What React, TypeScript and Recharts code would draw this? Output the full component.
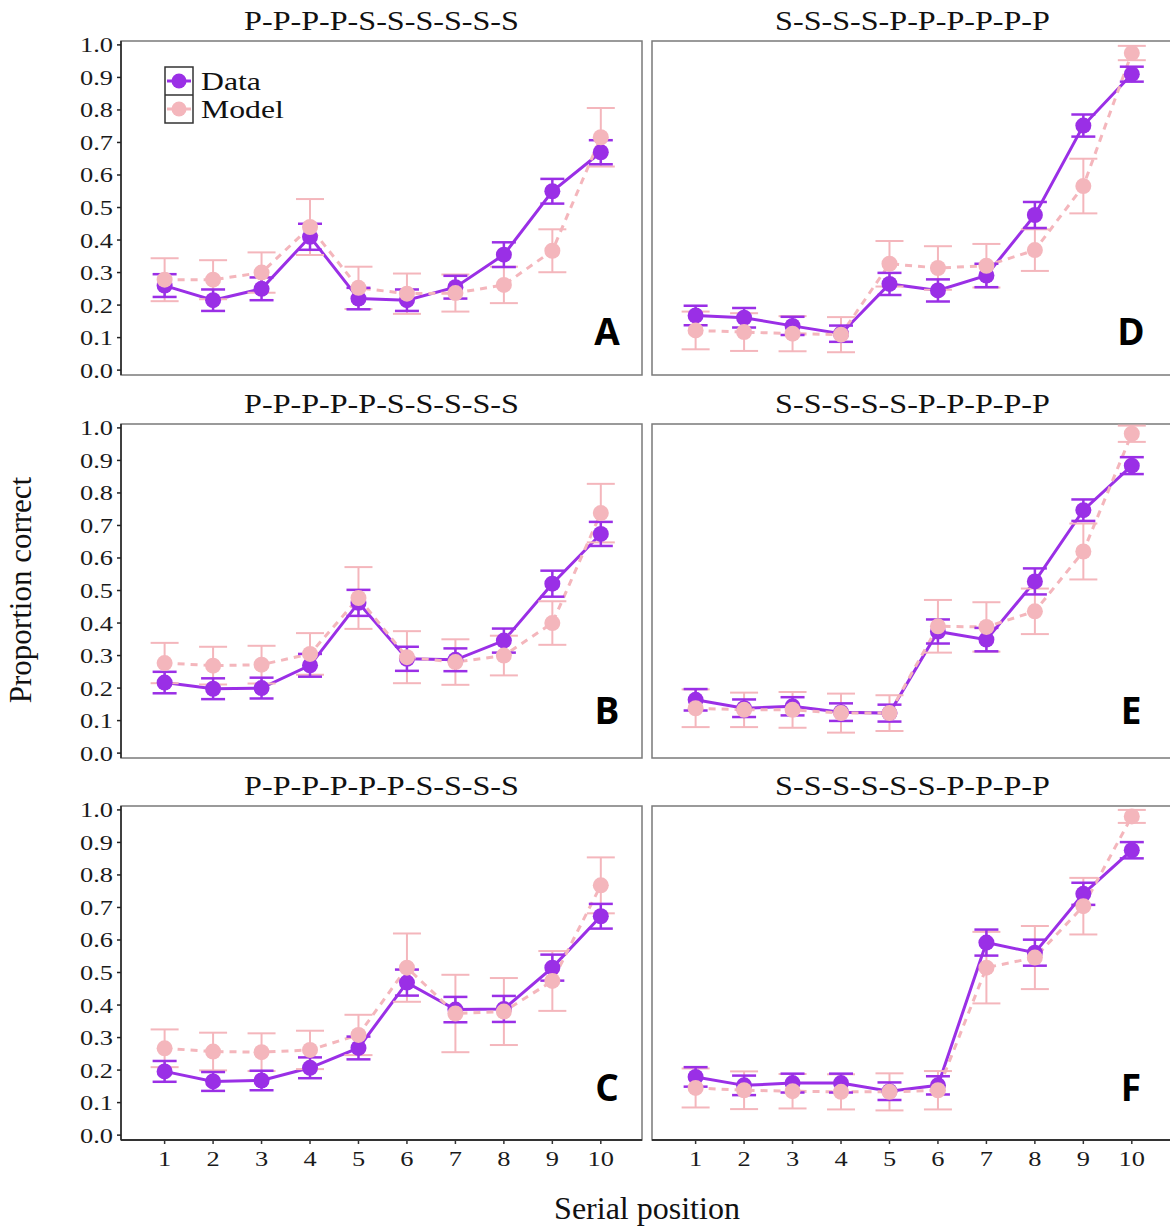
import React from 'react';
import { LineChart, Line, XAxis, YAxis, ErrorBar } from 'recharts';

const positions = [1, 2, 3, 4, 5, 6, 7, 8, 9, 10];
const yTicks = [0, 0.1, 0.2, 0.3, 0.4, 0.5, 0.6, 0.7, 0.8, 0.9, 1.0];

// panel A: P-P-P-P-S-S-S-S-S-S
const dataA = [0.26, 0.215, 0.25, 0.41, 0.22, 0.215, 0.255, 0.355, 0.55, 0.67];
const dataAErr = [0.035, 0.033, 0.035, 0.04, 0.033, 0.033, 0.035, 0.038, 0.038, 0.037];
const modelA = [0.278, 0.278, 0.3, 0.44, 0.253, 0.235, 0.237, 0.262, 0.367, 0.716];
const modelAErr = [0.066, 0.06, 0.062, 0.086, 0.065, 0.062, 0.057, 0.056, 0.066, 0.09];

// panel B: P-P-P-P-P-S-S-S-S-S
const dataB = [0.217, 0.198, 0.2, 0.27, 0.462, 0.29, 0.287, 0.346, 0.521, 0.674];
const dataBErr = [0.033, 0.032, 0.032, 0.035, 0.04, 0.037, 0.035, 0.037, 0.04, 0.037];
const modelB = [0.277, 0.269, 0.272, 0.305, 0.477, 0.295, 0.28, 0.3, 0.4, 0.738];
const modelBErr = [0.062, 0.058, 0.058, 0.064, 0.095, 0.08, 0.07, 0.061, 0.067, 0.09];

// panel C: P-P-P-P-P-P-S-S-S-S
const dataC = [0.196, 0.165, 0.168, 0.207, 0.268, 0.469, 0.386, 0.388, 0.515, 0.673];
const dataCErr = [0.032, 0.029, 0.03, 0.032, 0.035, 0.04, 0.039, 0.04, 0.04, 0.038];
const modelC = [0.267, 0.257, 0.255, 0.262, 0.308, 0.515, 0.374, 0.38, 0.474, 0.768];
const modelCErr = [0.058, 0.058, 0.058, 0.059, 0.062, 0.105, 0.119, 0.103, 0.092, 0.086];

// panel D: S-S-S-S-P-P-P-P-P-P
const dataD = [0.168, 0.161, 0.136, 0.112, 0.265, 0.245, 0.291, 0.477, 0.752, 0.91];
const dataDErr = [0.03, 0.03, 0.028, 0.025, 0.034, 0.034, 0.036, 0.04, 0.034, 0.023];
const modelD = [0.122, 0.117, 0.112, 0.109, 0.327, 0.314, 0.321, 0.369, 0.566, 0.975];
const modelDErr = [0.058, 0.058, 0.054, 0.054, 0.07, 0.067, 0.067, 0.064, 0.084, 0.022];

// panel E: S-S-S-S-S-P-P-P-P-P
const dataE = [0.164, 0.138, 0.144, 0.126, 0.123, 0.374, 0.349, 0.528, 0.747, 0.884];
const dataEErr = [0.033, 0.027, 0.028, 0.027, 0.026, 0.037, 0.036, 0.04, 0.033, 0.026];
const modelE = [0.138, 0.133, 0.133, 0.123, 0.123, 0.39, 0.388, 0.436, 0.62, 0.982];
const modelEErr = [0.058, 0.053, 0.055, 0.06, 0.055, 0.081, 0.076, 0.07, 0.086, 0.025];

// panel F: S-S-S-S-S-S-P-P-P-P
const dataF = [0.179, 0.153, 0.16, 0.16, 0.135, 0.153, 0.592, 0.561, 0.742, 0.876];
const dataFErr = [0.03, 0.03, 0.029, 0.029, 0.027, 0.028, 0.04, 0.04, 0.034, 0.025];
const modelF = [0.145, 0.138, 0.135, 0.133, 0.133, 0.138, 0.515, 0.546, 0.704, 0.98];
const modelFErr = [0.06, 0.058, 0.053, 0.054, 0.057, 0.059, 0.11, 0.097, 0.087, 0.02];

const titles = [
  'P-P-P-P-S-S-S-S-S-S',
  'P-P-P-P-P-S-S-S-S-S',
  'P-P-P-P-P-P-S-S-S-S',
  'S-S-S-S-P-P-P-P-P-P',
  'S-S-S-S-S-P-P-P-P-P',
  'S-S-S-S-S-S-P-P-P-P',
];
const letters = ['A', 'B', 'C', 'D', 'E', 'F'];
const legendNames = ['Data', 'Model'];

const PURPLE = '#9a2fe6';
const PINK = '#f4b6bc';
const SERIF = '"Liberation Serif", "Times New Roman", serif';

const PLOT_W = 521;
const PLOT_H = 334;
const COL_LEFT = [121, 652];
const ROW_TOP = [41, 424, 806];
const LETTER_BASE = [345, 724, 1101];
const Y_DOMAIN: [number, number] = [-0.015, 1.012];
const X_DOMAIN: [number, number] = [0.1, 10.85];

const panels = [
  { data: dataA, dataErr: dataAErr, model: modelA, modelErr: modelAErr, row: 0, col: 0 },
  { data: dataB, dataErr: dataBErr, model: modelB, modelErr: modelBErr, row: 1, col: 0 },
  { data: dataC, dataErr: dataCErr, model: modelC, modelErr: modelCErr, row: 2, col: 0 },
  { data: dataD, dataErr: dataDErr, model: modelD, modelErr: modelDErr, row: 0, col: 1 },
  { data: dataE, dataErr: dataEErr, model: modelE, modelErr: modelEErr, row: 1, col: 1 },
  { data: dataF, dataErr: dataFErr, model: modelF, modelErr: modelFErr, row: 2, col: 1 },
];

const YTick = (props: any) => {
  const { x, y, payload } = props;
  return (
    <text
      transform={`translate(${x},${y}) scale(1.2,1)`}
      textAnchor="end"
      dy="0.34em"
      fontSize={22}
      fontFamily={SERIF}
      fill="#1a1a1a"
    >
      {Number(payload.value).toFixed(1)}
    </text>
  );
};

const XTick = (props: any) => {
  const { x, y, payload } = props;
  return (
    <text
      transform={`translate(${x},${y}) scale(1.2,1)`}
      textAnchor="middle"
      dy="0.71em"
      fontSize={22}
      fontFamily={SERIF}
      fill="#1a1a1a"
    >
      {payload.value}
    </text>
  );
};

const Panel = ({ p }: { p: (typeof panels)[number] }) => {
  const rows = positions.map((pos, i) => ({
    pos,
    data: p.data[i],
    dataErr: p.dataErr[i],
    model: p.model[i],
    modelErr: p.modelErr[i],
  }));
  const showY = p.col === 0;
  const showX = p.row === 2;
  const yW = showY ? 60 : 0;
  const xH = showX ? 40 : 0;
  const mTop = 12;
  const mRight = 10;
  const mBottom = 14;
  const left = COL_LEFT[p.col] - yW;
  const top = ROW_TOP[p.row] - mTop;

  return (
    <div style={{ position: 'absolute', left, top }}>
      <LineChart
        width={yW + PLOT_W + mRight}
        height={mTop + PLOT_H + xH + mBottom}
        data={rows}
        margin={{ top: mTop, right: mRight, bottom: mBottom, left: 0 }}
      >
        <XAxis
          dataKey="pos"
          type="number"
          domain={X_DOMAIN}
          ticks={positions}
          interval={0}
          hide={!showX}
          height={xH}
          tickSize={4}
          tickMargin={6}
          tick={<XTick />}
          axisLine={{ stroke: '#333', strokeWidth: 2 }}
          tickLine={{ stroke: '#333', strokeWidth: 1.5 }}
        />
        <YAxis
          type="number"
          domain={Y_DOMAIN}
          ticks={yTicks}
          interval={0}
          hide={!showY}
          width={yW}
          tickSize={4}
          tickMargin={4}
          tick={<YTick />}
          axisLine={{ stroke: '#222', strokeWidth: 1.5 }}
          tickLine={{ stroke: '#222', strokeWidth: 1.5 }}
        />
        <Line dataKey="data" stroke={PURPLE} strokeWidth={3} dot={false} activeDot={false} isAnimationActive={false} />
        <Line
          dataKey="model"
          stroke={PINK}
          strokeWidth={3}
          strokeDasharray="7 6"
          dot={false}
          activeDot={false}
          isAnimationActive={false}
        />
        <Line
          dataKey="data"
          stroke="none"
          dot={{ r: 8, fill: PURPLE, stroke: 'none' }}
          activeDot={false}
          isAnimationActive={false}
        />
        <Line
          dataKey="model"
          stroke="none"
          dot={{ r: 8, fill: PINK, stroke: 'none' }}
          activeDot={false}
          isAnimationActive={false}
        />
        <Line dataKey="model" stroke="none" dot={false} activeDot={false} isAnimationActive={false}>
          <ErrorBar dataKey="modelErr" direction="y" width={14} stroke={PINK} strokeWidth={2} isAnimationActive={false} />
        </Line>
        <Line dataKey="data" stroke="none" dot={false} activeDot={false} isAnimationActive={false}>
          <ErrorBar dataKey="dataErr" direction="y" width={12} stroke={PURPLE} strokeWidth={2.5} isAnimationActive={false} />
        </Line>
      </LineChart>
    </div>
  );
};

const Backdrop = () => (
  <svg width={1170} height={1228} style={{ position: 'absolute', left: 0, top: 0 }}>
    {panels.map((p, i) => {
      const x = COL_LEFT[p.col];
      const y = ROW_TOP[p.row];
      return (
        <g key={i}>
          <rect x={x} y={y} width={PLOT_W} height={PLOT_H} fill="none" stroke="#7a7a7a" strokeWidth={1.5} />
          <text
            transform={`translate(${x + PLOT_W / 2},${y - 11}) scale(1.19,1)`}
            textAnchor="middle"
            fontSize={27}
            fontFamily={SERIF}
            fill="#111"
          >
            {titles[i]}
          </text>
          <text
            x={x + (p.col === 0 ? 486 : 479)}
            y={LETTER_BASE[p.row]}
            textAnchor="middle"
            fontSize={37}
            fontWeight="bold"
            fontFamily='"Open Sans", "Noto Sans", sans-serif'
            fill="#000"
          >
            {letters[i]}
          </text>
        </g>
      );
    })}
    {/* legend inside panel A */}
    <g>
      <rect x={165} y={67} width={28} height={56} fill="#fff" stroke="#333" strokeWidth={1.5} />
      <line x1={165} y1={95} x2={193} y2={95} stroke="#333" strokeWidth={1.5} />
      <line x1={167} y1={81} x2={191} y2={81} stroke={PURPLE} strokeWidth={3} />
      <circle cx={179} cy={81} r={7.5} fill={PURPLE} />
      <line x1={167} y1={109} x2={191} y2={109} stroke={PINK} strokeWidth={3} />
      <circle cx={179} cy={109} r={7.5} fill={PINK} />
      {legendNames.map((n, i) => (
        <text
          key={n}
          transform={`translate(201,${90 + i * 28}) scale(1.22,1)`}
          fontSize={26}
          fontFamily={SERIF}
          fill="#111"
        >
          {n}
        </text>
      ))}
    </g>
    <text x={647} y={1219} textAnchor="middle" fontSize={32} fontFamily={SERIF} fill="#111">
      Serial position
    </text>
    <text
      transform="translate(31,590) rotate(-90)"
      textAnchor="middle"
      fontSize={31}
      fontFamily={SERIF}
      fill="#111"
    >
      Proportion correct
    </text>
  </svg>
);

const App = () => (
  <div
    style={{
      position: 'absolute',
      left: 0,
      top: 0,
      width: 1170,
      height: 1228,
      overflow: 'hidden',
      background: '#fff',
    }}
  >
    <Backdrop />
    {panels.map((p, i) => (
      <Panel key={i} p={p} />
    ))}
  </div>
);

export default App;
